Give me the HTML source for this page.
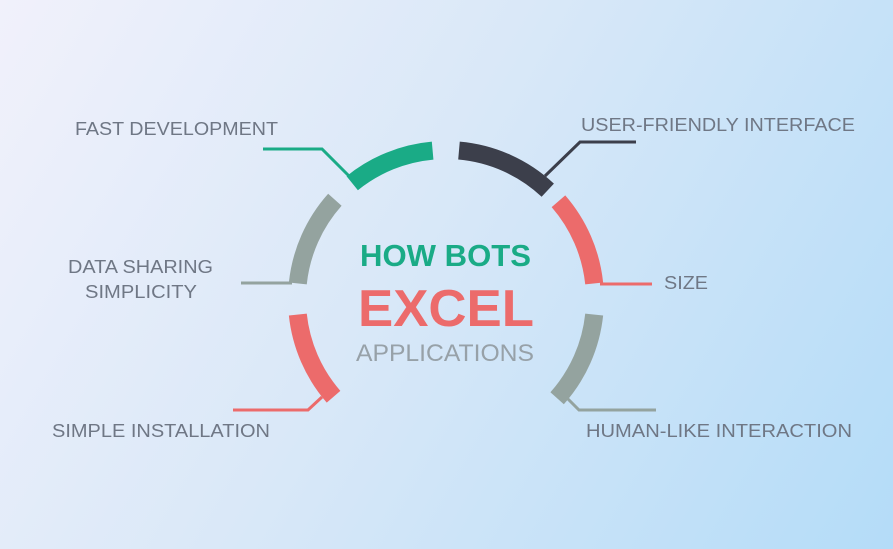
<!DOCTYPE html>
<html><head><meta charset="utf-8"><style>
html,body{margin:0;padding:0;}
body{width:893px;height:549px;overflow:hidden;background:linear-gradient(120deg,#f1f1fb 0%,#d9e8f8 45%,#b4dcf8 100%);}
svg{display:block}
text{font-family:"Liberation Sans",sans-serif;}
</style></head><body>
<svg width="893" height="549" viewBox="0 0 893 549">
<g fill="none" stroke-width="18">
<circle cx="446" cy="299" r="149" stroke="#94a39f" stroke-dasharray="93 1000" transform="rotate(6 446 299)"/>
<circle cx="446" cy="299" r="149" stroke="#ec6b6b" stroke-dasharray="91 1000" transform="rotate(139 446 299)"/>
<circle cx="446" cy="299" r="149" stroke="#94a39f" stroke-dasharray="93 1000" transform="rotate(186 446 299)"/>
<circle cx="446" cy="299" r="149" stroke="#1aab86" stroke-dasharray="88 1000" transform="rotate(231 446 299)"/>
<circle cx="446" cy="299" r="149" stroke="#3c3f4b" stroke-dasharray="99 1000" transform="rotate(275 446 299)"/>
<circle cx="446" cy="299" r="149" stroke="#ec6b6b" stroke-dasharray="91 1000" transform="rotate(319 446 299)"/>
</g>
<g fill="none" stroke-width="3">
<polyline points="263,149 322,149 350,177" stroke="#1aab86"/>
<polyline points="545,176 580,142 636,142" stroke="#3c3f4b"/>
<polyline points="241,283 292,283" stroke="#94a39f"/>
<polyline points="600,284 652,284" stroke="#ec6b6b"/>
<polyline points="322,397 308,410 233,410" stroke="#ec6b6b"/>
<polyline points="566,397 579,410 656,410" stroke="#94a39f"/>
</g>
<g fill="#6f7785" font-size="18" lengthAdjust="spacingAndGlyphs">
<text x="75" y="135" textLength="203" lengthAdjust="spacingAndGlyphs">FAST DEVELOPMENT</text>
<text x="581" y="131" textLength="274" lengthAdjust="spacingAndGlyphs">USER-FRIENDLY INTERFACE</text>
<text x="68" y="273" textLength="145" lengthAdjust="spacingAndGlyphs">DATA SHARING</text>
<text x="85" y="298" textLength="112" lengthAdjust="spacingAndGlyphs">SIMPLICITY</text>
<text x="664" y="289" textLength="44" lengthAdjust="spacingAndGlyphs">SIZE</text>
<text x="52" y="437" textLength="218" lengthAdjust="spacingAndGlyphs">SIMPLE INSTALLATION</text>
<text x="586" y="437" textLength="266" lengthAdjust="spacingAndGlyphs">HUMAN-LIKE INTERACTION</text>
</g>
<text x="360" y="266" textLength="171" lengthAdjust="spacingAndGlyphs" font-size="31" font-weight="bold" fill="#1aab86">HOW BOTS</text>
<text x="358" y="326" textLength="176" lengthAdjust="spacingAndGlyphs" font-size="52" font-weight="bold" fill="#ec6b6b">EXCEL</text>
<text x="356" y="361" textLength="178" lengthAdjust="spacingAndGlyphs" font-size="24" fill="#97a1a8">APPLICATIONS</text>
</svg>
</body></html>
